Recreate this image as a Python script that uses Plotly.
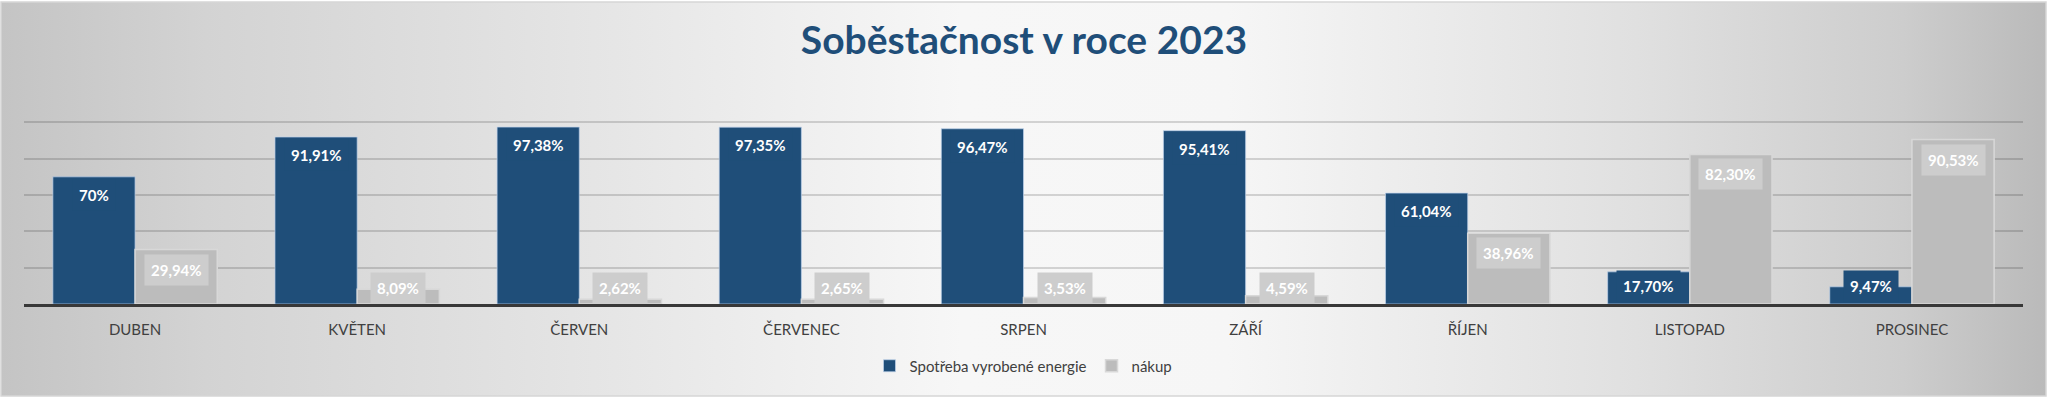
import base64
import plotly.graph_objects as go

# ---- data ----
months = ["DUBEN", "KVĚTEN", "ČERVEN", "ČERVENEC", "SRPEN", "ZÁŘÍ", "ŘÍJEN", "LISTOPAD", "PROSINEC"]
spotreba = [70, 91.91, 97.38, 97.35, 96.47, 95.41, 61.04, 17.70, 9.47]
nakup = [29.94, 8.09, 2.62, 2.65, 3.53, 4.59, 38.96, 82.30, 90.53]
series_names = ["Spotřeba vyrobené energie", "nákup"]
title_text = "Soběstačnost v roce 2023"
y_ticks = [0, 20, 40, 60, 80, 100, 120]

# ---- style ----
W, H = 2048, 399
ML, MR, MT, MB = 24, 25, 86, 95
BLUE = "#1f4e79"
GRAY = "#bcbcbc"
GRAY_BOX = "#cdcdcd"
TEXT = "#404040"
FONT = "Lato"
BARGAP = 0.26


def fmt(v):
    if float(v).is_integer():
        return f"{int(v)}%"
    return f"{v:.2f}".replace(".", ",") + "%"


fig = go.Figure()
fig.add_trace(go.Bar(
    x=months, y=spotreba, name=series_names[0],
    marker=dict(color=BLUE, line=dict(color="rgba(190,210,235,0.7)", width=1)),
    hoverinfo="x+y",
))
fig.add_trace(go.Bar(
    x=months, y=nakup, name=series_names[1],
    marker=dict(color=GRAY, line=dict(color="#d8d8d8", width=1.5)),
    hoverinfo="x+y",
))

# data labels (boxed, Excel "inside end" style)
half = (1 - BARGAP) / 4
ann = []
for i, (a, b) in enumerate(zip(spotreba, nakup)):
    ann.append(dict(
        x=i - half, y=max(a, 20), xref="x", yref="y", yshift=-18,
        text=f"<b>{fmt(a)}</b>", showarrow=False,
        font=dict(family=FONT, size=15, color="white"),
        bgcolor=BLUE, borderpad=6, yanchor="middle",
    ))
    ann.append(dict(
        x=i + half, y=max(b, 20), xref="x", yref="y", yshift=-20,
        text=f"<b>{fmt(b)}</b>", showarrow=False,
        font=dict(family=FONT, size=15, color="white"),
        bgcolor=GRAY_BOX, borderpad=6, yanchor="middle",
    ))

# background gradient via inline SVG
svg = (
    '<svg xmlns="http://www.w3.org/2000/svg" width="2048" height="399" preserveAspectRatio="none">'
    '<defs><linearGradient id="g" x1="0" y1="0" x2="1" y2="0">'
    '<stop offset="0" stop-color="#c4c4c4"/>'
    '<stop offset="0.1" stop-color="#d3d3d3"/>'
    '<stop offset="0.3" stop-color="#e6e6e6"/>'
    '<stop offset="0.47" stop-color="#f7f7f7"/>'
    '<stop offset="0.6" stop-color="#f6f6f6"/>'
    '<stop offset="0.8" stop-color="#e0e0e0"/>'
    '<stop offset="0.93" stop-color="#cdcdcd"/>'
    '<stop offset="1" stop-color="#bababa"/>'
    '</linearGradient></defs>'
    '<rect x="0" y="0" width="2048" height="399" fill="white"/>'
    '<rect x="1" y="2" width="2045" height="394" fill="url(#g)" stroke="#d6d6d6" stroke-width="1.5"/>'
    '</svg>'
)
src = "data:image/svg+xml;base64," + base64.b64encode(svg.encode()).decode()
pw = W - ML - MR
ph = H - MT - MB

fig.update_layout(
    width=W, height=H,
    margin=dict(l=ML, r=MR, t=MT, b=MB, pad=0),
    paper_bgcolor="#e8e8e8",
    plot_bgcolor="rgba(0,0,0,0)",
    barmode="group", bargap=BARGAP, bargroupgap=0,
    font=dict(family=FONT, color=TEXT),
    title=dict(
        text=f"<b>{title_text}</b>", x=0.5, xanchor="center",
        y=1 - 40 / H, yanchor="middle",
        font=dict(family=FONT, size=39, color=BLUE),
    ),
    xaxis=dict(
        type="category", showgrid=False, showline=True, linecolor="#383838", linewidth=3,
        ticks="", tickfont=dict(family=FONT, size=15, color=TEXT), zeroline=False,
        ticklabelstandoff=10, fixedrange=True,
    ),
    yaxis=dict(
        range=[0, 120], tickvals=y_ticks, showticklabels=False, showgrid=True,
        gridcolor="rgba(0,0,0,0.15)", gridwidth=1.5, zeroline=False, fixedrange=True,
    ),
    legend=dict(
        orientation="h", x=0.5, xanchor="center", y=-(366 - (H - MB)) / ph, yanchor="middle",
        font=dict(family=FONT, size=15, color=TEXT), bgcolor="rgba(0,0,0,0)",
        itemwidth=30, traceorder="normal",
    ),
    annotations=ann,
    images=[dict(
        source=src, xref="paper", yref="paper",
        x=-ML / pw, y=1 + MT / ph, sizex=W / pw, sizey=H / ph,
        xanchor="left", yanchor="top", sizing="stretch", layer="below",
    )],
    showlegend=True,
)

fig.write_html(
    "out.html",
    config={"displayModeBar": False},
    post_script="document.body.style.margin='0';document.body.style.overflow='hidden';",
)
